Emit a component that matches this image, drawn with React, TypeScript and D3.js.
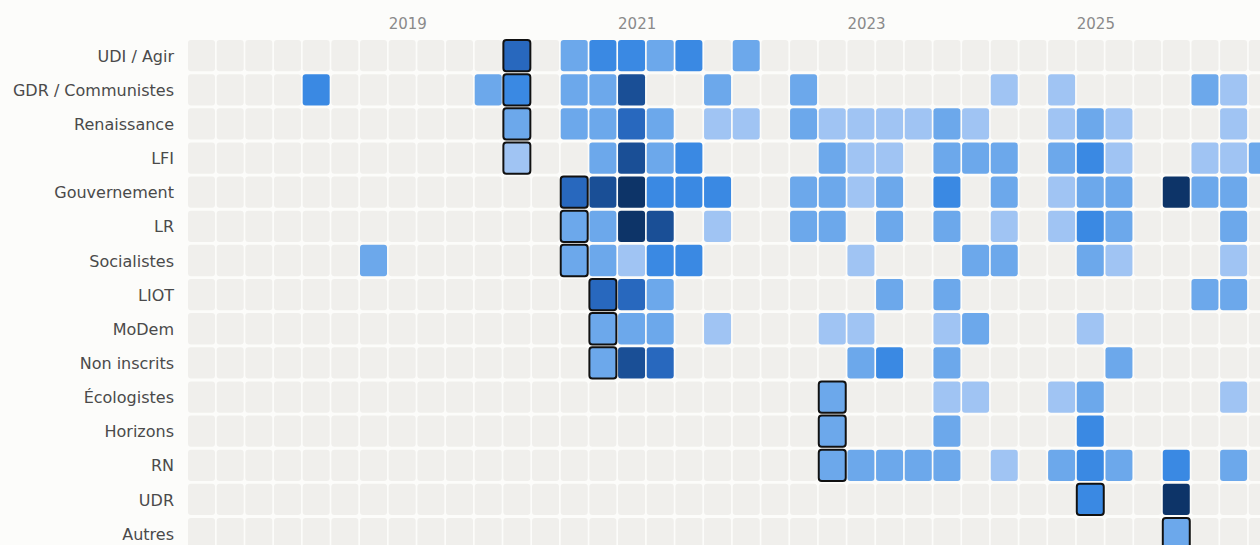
import * as d3 from "d3";

// trimestres affichés (colonnes)
const quarters = [
  "2017-T2", "2017-T3", "2017-T4",
  "2018-T1", "2018-T2", "2018-T3", "2018-T4",
  "2019-T1", "2019-T2", "2019-T3", "2019-T4",
  "2020-T1", "2020-T2", "2020-T3", "2020-T4",
  "2021-T1", "2021-T2", "2021-T3", "2021-T4",
  "2022-T1", "2022-T2", "2022-T3", "2022-T4",
  "2023-T1", "2023-T2", "2023-T3", "2023-T4",
  "2024-T1", "2024-T2", "2024-T3", "2024-T4",
  "2025-T1", "2025-T2", "2025-T3", "2025-T4",
  "2026-T1", "2026-T2", "2026-T3",
];

const groups = [
  "UDI / Agir", "GDR / Communistes", "Renaissance", "LFI", "Gouvernement",
  "LR", "Socialistes", "LIOT", "MoDem", "Non inscrits",
  "Écologistes", "Horizons", "RN", "UDR", "Autres",
];

// intensité 0..6 par trimestre
const udiAgir =      [0,0,0,0,0,0,0,0,0,0, 0,4,0,2,3,3,2,3,0,2, 0,0,0,0,0,0,0,0,0,0, 0,0,0,0,0,0,0,0];
const gdr =          [0,0,0,0,3,0,0,0,0,0, 2,3,0,2,2,5,0,0,2,0, 0,2,0,0,0,0,0,0,1,0, 1,0,0,0,0,2,1,0];
const renaissance =  [0,0,0,0,0,0,0,0,0,0, 0,2,0,2,2,4,2,0,1,1, 0,2,1,1,1,1,2,1,0,0, 1,2,1,0,0,0,1,0];
const lfi =          [0,0,0,0,0,0,0,0,0,0, 0,1,0,0,2,5,2,3,0,0, 0,0,2,1,1,0,2,2,2,0, 2,3,1,0,0,1,1,2];
const gouvernement = [0,0,0,0,0,0,0,0,0,0, 0,0,0,4,5,6,3,3,3,0, 0,2,2,1,2,0,3,0,2,0, 1,2,2,0,6,2,2,0];
const lr =           [0,0,0,0,0,0,0,0,0,0, 0,0,0,2,2,6,5,0,1,0, 0,2,2,0,2,0,2,0,1,0, 1,3,2,0,0,0,2,0];
const socialistes =  [0,0,0,0,0,0,2,0,0,0, 0,0,0,2,2,1,3,3,0,0, 0,0,0,1,0,0,0,2,2,0, 0,2,1,0,0,0,1,0];
const liot =         [0,0,0,0,0,0,0,0,0,0, 0,0,0,0,4,4,2,0,0,0, 0,0,0,0,2,0,2,0,0,0, 0,0,0,0,0,2,2,0];
const modem =        [0,0,0,0,0,0,0,0,0,0, 0,0,0,0,2,2,2,0,1,0, 0,0,1,1,0,0,1,2,0,0, 0,1,0,0,0,0,0,0];
const nonInscrits =  [0,0,0,0,0,0,0,0,0,0, 0,0,0,0,2,5,4,0,0,0, 0,0,0,2,3,0,2,0,0,0, 0,0,2,0,0,0,0,0];
const ecologistes =  [0,0,0,0,0,0,0,0,0,0, 0,0,0,0,0,0,0,0,0,0, 0,0,2,0,0,0,1,1,0,0, 1,2,0,0,0,0,1,0];
const horizons =     [0,0,0,0,0,0,0,0,0,0, 0,0,0,0,0,0,0,0,0,0, 0,0,2,0,0,0,2,0,0,0, 0,3,0,0,0,0,0,0];
const rn =           [0,0,0,0,0,0,0,0,0,0, 0,0,0,0,0,0,0,0,0,0, 0,0,2,2,2,2,2,0,1,0, 2,3,2,0,3,0,2,0];
const udr =          [0,0,0,0,0,0,0,0,0,0, 0,0,0,0,0,0,0,0,0,0, 0,0,0,0,0,0,0,0,0,0, 0,3,0,0,6,0,0,0];
const autres =       [0,0,0,0,0,0,0,0,0,0, 0,0,0,0,0,0,0,0,0,0, 0,0,0,0,0,0,0,0,0,0, 0,0,0,0,2,0,0,0];

const series = [udiAgir, gdr, renaissance, lfi, gouvernement, lr, socialistes, liot, modem, nonInscrits, ecologistes, horizons, rn, udr, autres];

// trimestre d'entrée (cellule entourée) pour chaque groupe
const entree = [
  "2020-T1", "2020-T1", "2020-T1", "2020-T1", "2020-T3", "2020-T3", "2020-T3", "2020-T4",
  "2020-T4", "2020-T4", "2022-T4", "2022-T4", "2022-T4", "2025-T1", "2025-T4",
];

const yearTicks = ["2019", "2021", "2023", "2025"];

const levelColors = ["#f0efec", "#a0c4f3", "#6ca8eb", "#3a89e3", "#2868be", "#1a4f96", "#0d3468"];

const W = 1260;
const H = 545;
const left = 188;
const top = 40;
const colStep = 28.67;
const colGap = 1.67;
const rowStep = 34.14;
const rowGap = 2.85;

export default function App() {
  const x = d3
    .scaleBand<string>()
    .domain(quarters)
    .range([left, left + quarters.length * colStep - colGap])
    .paddingInner(colGap / colStep);
  const y = d3
    .scaleBand<string>()
    .domain(groups)
    .range([top, top + groups.length * rowStep - rowGap])
    .paddingInner(rowGap / rowStep);
  const color = d3.scaleOrdinal<number, string>().domain(d3.range(7)).range(levelColors);

  const cells = groups.flatMap((g, gi) =>
    quarters.map((q, qi) => ({ g, q, v: series[gi][qi], first: entree[gi] === q }))
  );

  return (
    <svg
      width={W}
      height={H}
      style={{ position: "absolute", left: 0, top: 0, background: "#fcfcfa", fontFamily: "DejaVu Sans, sans-serif" }}
    >
      {yearTicks.map((yr) => (
        <text key={yr} x={x(`${yr}-T1`)!} y={28.5} fontSize={15} fill="#8a8a8a">
          {yr}
        </text>
      ))}
      {groups.map((g) => (
        <text
          key={g}
          x={left - 14}
          y={y(g)! + y.bandwidth() / 2}
          dy="0.38em"
          textAnchor="end"
          fontSize={16}
          fill="#4a4a4a"
        >
          {g}
        </text>
      ))}
      {cells.map((d) => (
        <rect
          key={`${d.g}:${d.q}`}
          x={x(d.q)!}
          y={y(d.g)!}
          width={x.bandwidth()}
          height={y.bandwidth()}
          rx={3}
          fill={color(d.v)}
        />
      ))}
      {cells
        .filter((d) => d.first)
        .map((d) => (
          <rect
            key={`o-${d.g}`}
            x={x(d.q)!}
            y={y(d.g)!}
            width={x.bandwidth()}
            height={y.bandwidth()}
            rx={3}
            fill="none"
            stroke="#111"
            strokeWidth={2}
          />
        ))}
    </svg>
  );
}
